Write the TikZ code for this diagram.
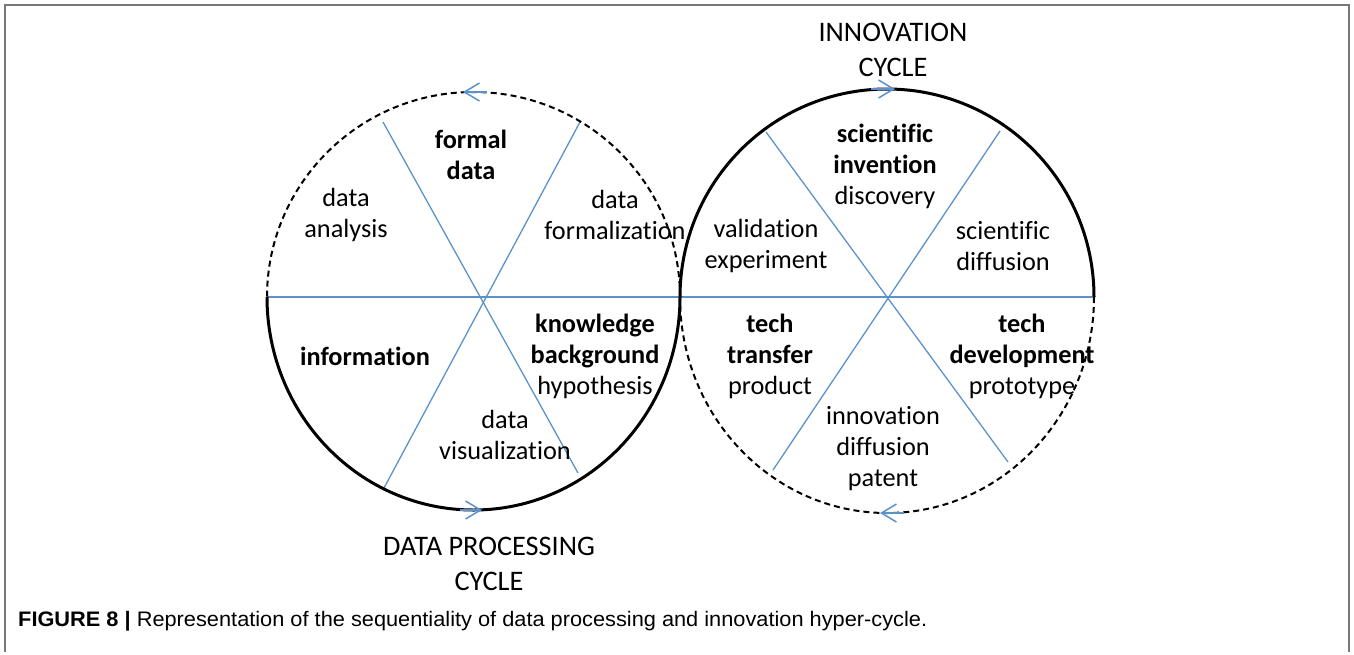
\documentclass[tikz,border=0pt]{standalone}
\usepackage{fontspec}
\setmainfont{Carlito}[Ligatures=NoCommon]
\newfontfamily\capfont{Liberation Sans}
\usetikzlibrary{arrows.meta}
\definecolor{spoke}{RGB}{91,146,204}
\definecolor{framegray}{RGB}{120,120,120}
\tikzset{
  lbl/.style={align=center, inner sep=0pt, font=\fontsize{26.3}{31}\selectfont},
  cyc/.style={align=center, inner sep=0pt, font=\fontsize{28.3}{35}\selectfont},
  spk/.style={draw=spoke, line width=1.3pt},
  solidarc/.style={draw=black, line width=3pt},
  dasharc/.style={draw=black, line width=2pt, dash pattern=on 6pt off 4pt},
  dirarrow/.style={draw=spoke, line width=1.5pt, -{Straight Barb[length=15pt, width=18pt, line width=1.5pt]}}
}
\begin{document}
\begin{tikzpicture}[x=1pt,y=1pt]
\useasboundingbox (0,0) rectangle (1354,-654);
\draw[framegray, line width=1.5pt] (5,-652) -- (5,-5) -- (1349,-5) -- (1349,-652);
% spokes
\coordinate (h1) at (267,-297);
\coordinate (h2) at (1094,-297);
\coordinate (a1) at (383,-122);
\coordinate (a2) at (578,-473);
\coordinate (b1) at (580,-122);
\coordinate (b2) at (384,-488);
\coordinate (c1) at (766,-132);
\coordinate (c2) at (1008,-462);
\coordinate (d1) at (1000,-131);
\coordinate (d2) at (773,-470);
\draw[spk] (h1) -- (h2);
\draw[spk] (a1) -- (a2);
\draw[spk] (b1) -- (b2);
\draw[spk] (c1) -- (c2);
\draw[spk] (d1) -- (d2);
% circles
\draw[dasharc] (680,-297) arc[start angle=0, end angle=180, x radius=206.5pt, y radius=205pt];
\draw[solidarc] (680,-297) arc[start angle=0, end angle=-180, x radius=206.5pt, y radius=213pt];
\draw[solidarc] (1094,-297) arc[start angle=0, end angle=180, x radius=207pt, y radius=208pt];
\draw[dasharc] (1094,-297) arc[start angle=0, end angle=-180, x radius=207pt, y radius=216pt];
% direction arrows
\coordinate (p1s) at (487,-92);  \coordinate (p1e) at (463,-92);
\coordinate (p2s) at (871,-89);  \coordinate (p2e) at (895,-89);
\coordinate (p3s) at (460,-510); \coordinate (p3e) at (482,-510);
\coordinate (p4s) at (904,-513); \coordinate (p4e) at (880,-513);
\draw[dirarrow] (p1s) -- (p1e);
\draw[dirarrow] (p2s) -- (p2e);
\draw[dirarrow] (p3s) -- (p3e);
\draw[dirarrow] (p4s) -- (p4e);
% labels left circle
\node[lbl] (fd) at (471,-155) {\textbf{formal}\\\textbf{data}};
\node[lbl] (da) at (346,-215) {data\\analysis};
\node[lbl] (df) at (615,-215) {data\\formalization};
\node[lbl] (inf) at (365,-356) {\textbf{information}};
\node[lbl] (kb) at (595,-356) {\textbf{knowledge}\\\textbf{background}\\hypothesis};
\node[lbl] (dv) at (505,-435) {data\\visualization};
% labels right circle
\node[lbl] (si) at (885,-166) {\textbf{scientific}\\\textbf{invention}\\discovery};
\node[lbl] (ve) at (766,-246) {validation\\experiment};
\node[lbl] (sd) at (1003,-246) {scientific\\diffusion};
\node[lbl] (tt) at (770,-356) {\textbf{tech}\\\textbf{transfer}\\product};
\node[lbl] (td) at (1022,-356) {\textbf{tech}\\\textbf{development}\\prototype};
\node[lbl] (idp) at (883,-449) {innovation\\diffusion\\patent};
% cycle titles
\node[cyc] (ic) at (893,-50) {INNOVATION\\CYCLE};
\node[cyc] (dpc) at (489,-564) {DATA PROCESSING\\CYCLE};
% caption
\node[anchor=west, inner sep=0pt, font=\capfont\fontsize{21}{24}\selectfont] (cap) at (18,-621)
  {\resizebox{909pt}{\height}{\textbf{FIGURE 8 |} Representation of the sequentiality of data processing and innovation hyper-cycle.}};
\end{tikzpicture}
\end{document}
